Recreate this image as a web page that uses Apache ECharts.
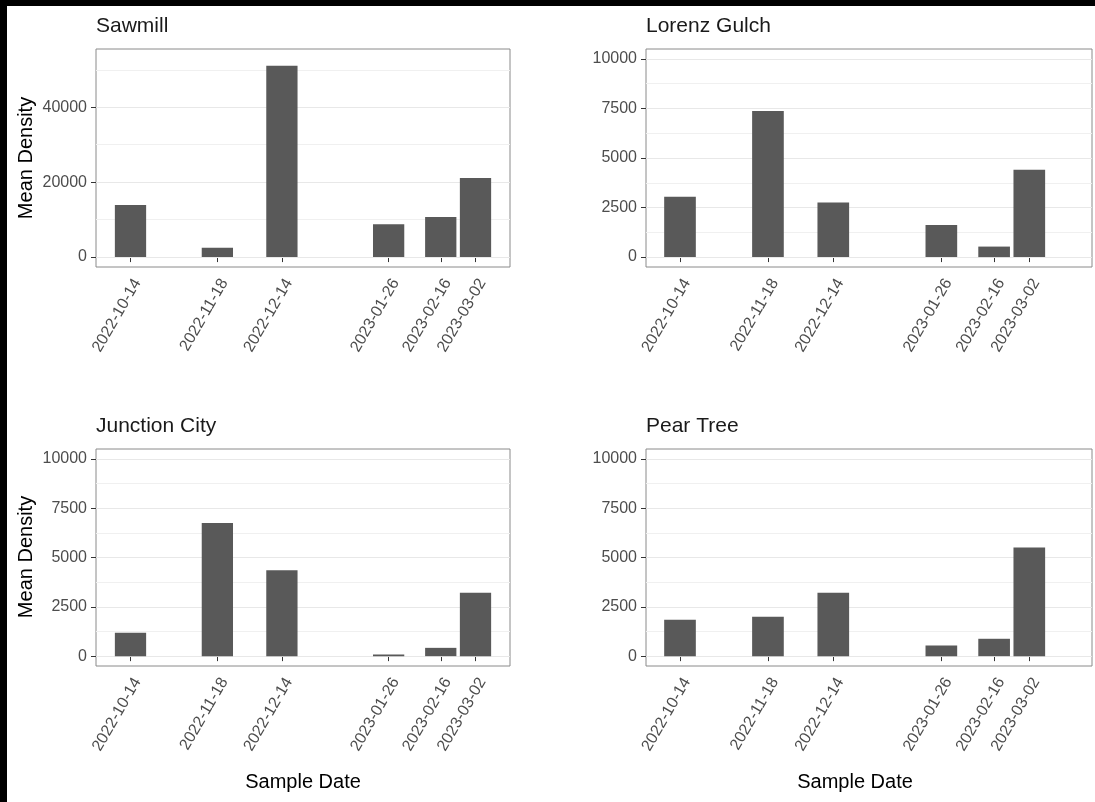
<!DOCTYPE html>
<html>
<head>
<meta charset="utf-8">
<title>Mean Density by Sample Date</title>
<script src="https://cdn.jsdelivr.net/npm/echarts@6/dist/echarts.min.js"></script>
<style>
  html, body { margin: 0; padding: 0; background: #000; }
  #chart { position: absolute; left: 0; top: 0; width: 1095px; height: 802px; background: #fff; }
  .edge { position: absolute; background: #000; pointer-events: none; z-index: 5; }
</style>
</head>
<body>
<div id="chart"></div>
<div class="edge" style="left:0;top:0;width:1095px;height:6px;"></div>
<div class="edge" style="left:0;top:0;width:7px;height:802px;"></div>
<script>
// Sample dates shared by every site
const sampleDates = ['2022-10-14', '2022-11-18', '2022-12-14', '2023-01-26', '2023-02-16', '2023-03-02'];

// Mean density per site, one value per sample date
const siteNames = ['Sawmill', 'Lorenz Gulch', 'Junction City', 'Pear Tree'];
const sawmill = [13900, 2500, 51100, 8750, 10700, 21100];
const lorenzGulch = [3050, 7370, 2750, 1620, 530, 4410];
const junctionCity = [1180, 6750, 4350, 80, 420, 3210];
const pearTree = [1850, 2000, 3210, 540, 880, 5510];

// Y tick labels (major) and minor gridline values
const sawmillTicks = [0, 20000, 40000];
const sawmillMinor = [10000, 30000, 50000];
const sharedTicks = [0, 2500, 5000, 7500, 10000];
const sharedMinor = [1250, 3750, 6250, 8750];

const yTitle = 'Mean Density';
const xTitle = 'Sample Date';

const DAY = 86400000;
const toTime = s => Date.parse(s + 'T00:00:00Z');
const times = sampleDates.map(toTime);
const halfBar = 0.45 * 14 * DAY; // columns 90% of the smallest gap between dates

const FONT = '"Liberation Sans", Arial, Helvetica, sans-serif';

// Panel layout: 2 x 2 facets; x span given in days before the first / after the last date
const layout = [
  { grid: { left: 96, top: 49, width: 414, height: 218 }, padBefore: 13.9, padAfter: 13.9, y: [-2645, 55545] },
  { grid: { left: 646, top: 49, width: 446, height: 218 }, padBefore: 13.53, padAfter: 24.95, y: [-500, 10500] },
  { grid: { left: 96, top: 449, width: 414, height: 217 }, padBefore: 13.9, padAfter: 13.9, y: [-500, 10500] },
  { grid: { left: 646, top: 449, width: 446, height: 217 }, padBefore: 13.53, padAfter: 24.95, y: [-500, 10500] }
];
const siteValues = [sawmill, lorenzGulch, junctionCity, pearTree];
const siteTicks = [sawmillTicks, sharedTicks, sharedTicks, sharedTicks];
const siteMinor = [sawmillMinor, sharedMinor, sharedMinor, sharedMinor];

const grids = [], xAxes = [], yAxes = [], series = [], graphics = [];

layout.forEach((p, i) => {
  grids.push(Object.assign({
    show: true,
    backgroundColor: '#ffffff',
    borderColor: '#8a8a8a',
    borderWidth: 1
  }, p.grid));

  xAxes.push({
    type: 'value',
    gridIndex: i,
    min: times[0] - p.padBefore * DAY,
    max: times[times.length - 1] + p.padAfter * DAY,
    axisLine: { show: false },
    splitLine: { show: false },
    axisTick: { show: true, customValues: times, length: 5, lineStyle: { color: '#333333', width: 1 } },
    axisLabel: {
      show: true,
      customValues: times,
      rotate: 60,
      margin: 9,
      align: 'right',
      verticalAlign: 'top',
      color: '#4d4d4d',
      fontSize: 16,
      fontFamily: FONT,
      hideOverlap: false,
      formatter: v => {
        const k = times.indexOf(v);
        return k >= 0 ? sampleDates[k] : '';
      }
    }
  });

  yAxes.push({
    type: 'value',
    gridIndex: i,
    min: p.y[0],
    max: p.y[1],
    axisLine: { show: false },
    splitLine: { show: false },
    axisTick: { show: true, customValues: siteTicks[i], length: 5, lineStyle: { color: '#333333', width: 1 } },
    axisLabel: {
      show: true,
      customValues: siteTicks[i],
      margin: 9,
      color: '#4d4d4d',
      fontSize: 16,
      fontFamily: FONT,
      formatter: v => String(v)
    }
  });

  const gridLines = siteTicks[i].map(v => ({ yAxis: v, lineStyle: { color: '#e8e8e8', width: 1.2, type: 'solid' } }))
    .concat(siteMinor[i].map(v => ({ yAxis: v, lineStyle: { color: '#f0f0f0', width: 1, type: 'solid' } })));

  series.push({
    type: 'custom',
    name: siteNames[i],
    xAxisIndex: i,
    yAxisIndex: i,
    z: 3,
    data: times.map((t, k) => [t, siteValues[i][k]]),
    renderItem: (params, api) => {
      const t = api.value(0);
      const v = api.value(1);
      const topLeft = api.coord([t - halfBar, v]);
      const bottomRight = api.coord([t + halfBar, 0]);
      return {
        type: 'rect',
        shape: {
          x: topLeft[0],
          y: topLeft[1],
          width: bottomRight[0] - topLeft[0],
          height: bottomRight[1] - topLeft[1]
        },
        style: { fill: '#595959' }
      };
    },
    markLine: {
      silent: true,
      z: 1,
      symbol: ['none', 'none'],
      label: { show: false },
      animation: false,
      data: gridLines
    },
    animation: false
  });

  // facet strip title
  graphics.push({
    type: 'text',
    x: p.grid.left,
    y: p.grid.top - 23,
    style: {
      text: siteNames[i],
      fill: '#1a1a1a',
      font: '21px ' + FONT,
      textAlign: 'left',
      textVerticalAlign: 'middle'
    }
  });
});

// axis titles
[158, 557].forEach(cy => {
  graphics.push({
    type: 'text',
    x: 26,
    y: cy,
    rotation: Math.PI / 2,
    style: {
      text: yTitle,
      fill: '#000000',
      font: '20px ' + FONT,
      textAlign: 'center',
      textVerticalAlign: 'middle'
    }
  });
});
[303, 855].forEach(cx => {
  graphics.push({
    type: 'text',
    x: cx,
    y: 782,
    style: {
      text: xTitle,
      fill: '#000000',
      font: '20px ' + FONT,
      textAlign: 'center',
      textVerticalAlign: 'middle'
    }
  });
});

const chart = echarts.init(document.getElementById('chart'), null, { renderer: 'canvas', width: 1095, height: 802 });
chart.setOption({
  backgroundColor: '#ffffff',
  animation: false,
  grid: grids,
  xAxis: xAxes,
  yAxis: yAxes,
  series: series,
  graphic: graphics
});
</script>
</body>
</html>
